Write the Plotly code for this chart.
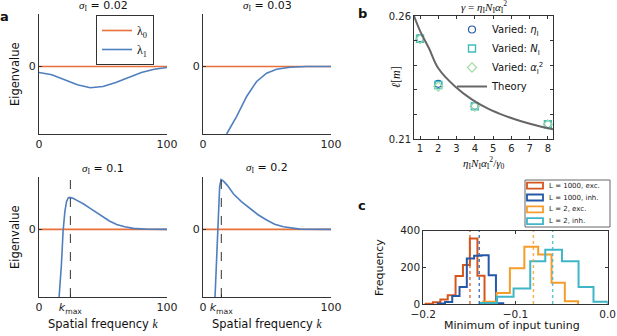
import plotly.graph_objects as go

W, H = 617, 336

# ---------------- data ----------------
# panel a : eigenvalues vs spatial frequency k
k_flat = [0, 100]
lam0 = [0, 0]

k_s002 = [0, 10, 20, 30, 40, 50, 60, 70, 80, 90, 100]
lam1_s002 = [-0.114, -0.158, -0.253, -0.348, -0.405, -0.380, -0.304, -0.203, -0.114, -0.051, -0.019]

k_s003 = [18.5, 26.3, 34.1, 41.9, 49.7, 57.5, 67.9, 80.9, 100]
lam1_s003 = [-1.285, -0.949, -0.570, -0.285, -0.127, -0.051, -0.013, 0.0, 0.0]

k_s01 = [15.7, 17.5, 18.8, 20.2, 21.5, 22.8, 24.1, 27, 30, 34.6, 40, 47.6, 55, 60.7, 67, 73.8, 85, 100]
lam1_s01 = [-1.29, -0.68, -0.04, 0.34, 0.53, 0.60, 0.61, 0.59, 0.55, 0.49, 0.40, 0.27, 0.16, 0.095, 0.05, 0.02, 0.003, 0.0]

k_s02 = [9.4, 10.7, 11.5, 12.2, 13.0, 14.1, 16, 19, 23.7, 30, 36.7, 43, 49.7, 56, 62.8, 75.8, 100]
lam1_s02 = [-1.29, -0.58, -0.01, 0.43, 0.81, 0.95, 0.92, 0.84, 0.68, 0.53, 0.40, 0.28, 0.18, 0.10, 0.05, 0.006, 0.0]

kmax_s01 = 24.5
kmax_s02 = 14.3

sigma_titles = ["0.02", "0.03", "0.1", "0.2"]

# panel b : ell[m] vs eta N alpha^2 / gamma0
ratio = [1, 2, 4, 8]
ell_eta = [0.2510, 0.2325, 0.2236, 0.2162]
ell_N = [0.2508, 0.2320, 0.2234, 0.2161]
ell_alpha = [0.2506, 0.2314, 0.2233, 0.2160]
theory_x = [0.67, 1.0, 1.49, 2.0, 2.92, 3.83, 4.75, 5.66, 6.58, 7.49, 8.28]
theory_y = [0.2600, 0.2540, 0.2469, 0.2388, 0.2314, 0.2262, 0.2223, 0.2195, 0.2172, 0.2154, 0.2141]
b_xticks = [1, 2, 3, 4, 5, 6, 7, 8]
b_yticks = [0.21, 0.22, 0.23, 0.24, 0.25, 0.26]
b_yticklabels = ["0.21", "", "", "", "", "0.26"]

# panel c : histograms of minimum of input tuning
red_edges = [-0.1975, -0.1895, -0.1815, -0.1735, -0.1650, -0.1570, -0.1495, -0.1413, -0.1336]
red_counts = [2, 10, 25, 48, 152, 212, 356, 154]
blue_edges = [-0.1844, -0.1765, -0.1686, -0.1607, -0.1528, -0.1449, -0.1370, -0.1291, -0.1212, -0.1133]
blue_counts = [3, 11, 44, 92, 247, 262, 265, 156, 4]
orange_edges = [-0.1350, -0.1205, -0.1061, -0.0904, -0.0754, -0.0609, -0.0465, -0.0321]
orange_counts = [12, 60, 194, 311, 270, 115, 15]
cyan_edges = [-0.1381, -0.1201, -0.1021, -0.0840, -0.0677, -0.0496, -0.0316, -0.0154, 0.0]
cyan_counts = [6, 40, 85, 233, 295, 233, 93, 12]
hist_means = [-0.1494, -0.1393, -0.0806, -0.0597]
hist_names = ["L = 1000, exc.", "L = 1000, inh.", "L = 2, exc.", "L = 2, inh."]
c_xticks = [-0.2, -0.1, 0.0]
c_xticklabels = ["\u22120.2", "\u22120.1", "0.0"]
c_yticks = [0, 200, 400]

# ---------------- styles ----------------
C_L0 = "#e8703a"
C_L1 = "#4f7fbf"
HIST_COLORS = ["#d4561c", "#2458a8", "#f59d2a", "#3fb6c8"]
SANS = "DejaVu Sans"
SERIF = "Liberation Serif"
AXC = "#333333"


def dx(a, b):
    return [a / W, b / W]


def dy(top, bottom):
    return [1 - bottom / H, 1 - top / H]


def steps(edges, counts):
    xs, ys = [edges[0]], [0]
    for i, c in enumerate(counts):
        xs += [edges[i], edges[i + 1]]
        ys += [c, c]
    xs.append(edges[-1])
    ys.append(0)
    return xs, ys


fig = go.Figure()

# ---- panel a ----
panels_a = [
    ("x", "y", k_s002, lam1_s002, True),
    ("x2", "y2", k_s003, lam1_s003, False),
    ("x3", "y3", k_s01, lam1_s01, False),
    ("x4", "y4", k_s02, lam1_s02, False),
]
for xa, ya, kk, ll, leg in panels_a:
    fig.add_trace(go.Scatter(x=k_flat, y=lam0, mode="lines", line=dict(color=C_L0, width=1.6),
                             name="\u03bb<sub>0</sub>", showlegend=leg, legend="legend",
                             xaxis=xa, yaxis=ya))
    fig.add_trace(go.Scatter(x=kk, y=ll, mode="lines", line=dict(color=C_L1, width=1.6),
                             name="\u03bb<sub>1</sub>", showlegend=leg, legend="legend",
                             xaxis=xa, yaxis=ya))

# ---- panel b ----
fig.add_trace(go.Scatter(x=ratio, y=ell_eta, mode="markers", name="Varied: <i>\u03b7</i><sub>I</sub>",
                         marker=dict(symbol="circle-open", size=7, color="#2a5aa8", line=dict(width=1.2)),
                         xaxis="x5", yaxis="y5", legend="legend2"))
fig.add_trace(go.Scatter(x=ratio, y=ell_N, mode="markers", name="Varied: <i>N</i><sub>I</sub>",
                         marker=dict(symbol="square-open", size=7, color="#3fbcbc", line=dict(width=1.4)),
                         xaxis="x5", yaxis="y5", legend="legend2"))
fig.add_trace(go.Scatter(x=ratio, y=ell_alpha, mode="markers", name="Varied: <i>\u03b1</i><sub>I</sub><sup>2</sup>",
                         marker=dict(symbol="diamond-open", size=7, color="#9fdca6", line=dict(width=1.2)),
                         xaxis="x5", yaxis="y5", legend="legend2"))
fig.add_trace(go.Scatter(x=theory_x, y=theory_y, mode="lines", name="Theory",
                         line=dict(color="#666666", width=2, shape="spline"),
                         xaxis="x5", yaxis="y5", legend="legend2"))

# ---- panel c ----
for edges, counts, col in [(red_edges, red_counts, HIST_COLORS[0]),
                           (blue_edges, blue_counts, HIST_COLORS[1]),
                           (orange_edges, orange_counts, HIST_COLORS[2]),
                           (cyan_edges, cyan_counts, HIST_COLORS[3])]:
    xs, ys = steps(edges, counts)
    fig.add_trace(go.Scatter(x=xs, y=ys, mode="lines", line=dict(color=col, width=2),
                             showlegend=False, xaxis="x6", yaxis="y6"))
for m, col in zip(hist_means, HIST_COLORS):
    fig.add_trace(go.Scatter(x=[m, m], y=[0, c_yticks[-1]], mode="lines",
                             line=dict(color=col, width=1.5, dash="dot"), opacity=0.8,
                             showlegend=False, xaxis="x6", yaxis="y6"))

# ---------------- axes ----------------
def a_axis(dom, rng, tickvals, ticktext, anchor, tsize=11):
    return dict(domain=dom, range=rng, tickvals=tickvals, ticktext=ticktext, anchor=anchor,
                showline=True, linecolor=AXC, linewidth=1, ticks="inside", ticklen=3,
                tickcolor=AXC, showgrid=False, zeroline=False, automargin=False,
                tickfont=dict(family=SANS, size=tsize, color="#222"))

kmax_txt = "<i>k</i><sub>max</sub>"
fig.update_layout(
    xaxis=a_axis(dx(39, 167), [0, 100], [0, 100], ["0", "100"], "y"),
    yaxis=a_axis(dy(14, 134), [-1.285, 1], [0], ["0"], "x"),
    xaxis2=a_axis(dx(203, 331), [0, 100], [0, 100], ["0", "100"], "y2"),
    yaxis2=a_axis(dy(14, 134), [-1.285, 1], [0], ["0"], "x2"),
    xaxis3=a_axis(dx(39, 167), [0, 100], [0, kmax_s01, 100], ["0", kmax_txt, "100"], "y3"),
    yaxis3=a_axis(dy(177, 297), [-1.29, 1], [0], ["0"], "x3"),
    xaxis4=a_axis(dx(203, 331), [0, 100], [0, kmax_s02, 100], ["0", kmax_txt, "100"], "y4"),
    yaxis4=a_axis(dy(177, 297), [-1.29, 1], [0], ["0"], "x4"),
)

fig.update_layout(
    xaxis5=dict(domain=dx(414, 553), range=[0.67, 8.28], tickvals=b_xticks, anchor="y5",
                showline=True, mirror="ticks", linecolor=AXC, linewidth=1, ticks="inside", ticklen=3,
                tickcolor=AXC, showgrid=False, zeroline=False, automargin=False,
                tickfont=dict(family=SANS, size=10, color="#222")),
    yaxis5=dict(domain=dy(16, 139.3), range=[0.21, 0.26], tickvals=b_yticks, ticktext=b_yticklabels,
                anchor="x5", showline=True, mirror="ticks", linecolor=AXC, linewidth=1, ticks="inside",
                ticklen=3, tickcolor=AXC, showgrid=False, zeroline=False, automargin=False,
                tickfont=dict(family=SANS, size=10, color="#222")),
    xaxis6=dict(domain=dx(423.3, 607.7), range=[-0.2, 0.0], tickvals=c_xticks, ticktext=c_xticklabels,
                anchor="y6", showline=True, mirror="ticks", linecolor=AXC, linewidth=1, ticks="inside",
                ticklen=3, tickcolor=AXC, showgrid=False, zeroline=False, automargin=False,
                tickfont=dict(family=SANS, size=10.5, color="#222")),
    yaxis6=dict(domain=dy(230.5, 304), range=[0, 400], tickvals=c_yticks, anchor="x6",
                showline=True, mirror="ticks", linecolor=AXC, linewidth=1, ticks="inside", ticklen=3,
                tickcolor=AXC, showgrid=False, zeroline=False, automargin=False,
                tickfont=dict(family=SANS, size=10.5, color="#222")),
)

# ---------------- shapes ----------------
shapes = []
for xa, ya, km in [("x3", "y3", kmax_s01), ("x4", "y4", kmax_s02)]:
    shapes.append(dict(type="line", xref=xa, yref=ya + " domain", x0=km, x1=km, y0=0, y1=1,
                       line=dict(color="#333", width=1, dash="dash")))

# manual legend for panel c
lx0, lx1, ly0, ly1 = 525, 610, 180, 227
shapes.append(dict(type="rect", xref="paper", yref="paper", x0=lx0 / W, x1=lx1 / W,
                   y0=1 - ly1 / H, y1=1 - ly0 / H, line=dict(color="#666", width=1),
                   fillcolor="white"))
annotations = []
for i, (name, col) in enumerate(zip(hist_names, HIST_COLORS)):
    cy = 185.7 + i * 11.8
    shapes.append(dict(type="rect", xref="paper", yref="paper", x0=527 / W, x1=543 / W,
                       y0=1 - (cy + 3) / H, y1=1 - (cy - 3) / H,
                       line=dict(color=col, width=1.8), fillcolor="rgba(0,0,0,0)"))
    annotations.append(dict(text=name, xref="paper", yref="paper", x=547 / W, y=1 - cy / H,
                            xanchor="left", yanchor="middle", showarrow=False,
                            font=dict(family=SANS, size=7, color="#222")))


def ann(text, x, y, size=11, angle=0, family=SANS, bold=False):
    if bold:
        text = "<b>" + text + "</b>"
    annotations.append(dict(text=text, xref="paper", yref="paper", x=x / W, y=1 - y / H,
                            xanchor="center", yanchor="middle", showarrow=False, textangle=angle,
                            font=dict(family=family, size=size, color="#111")))


sig = "<span style=\"font-family:'Liberation Serif'\"><i>\u03c3</i><sub>I</sub></span>"
ann(sig + " = " + sigma_titles[0], 103, 6)
ann(sig + " = " + sigma_titles[1], 267, 6)
ann(sig + " = " + sigma_titles[2], 103, 169)
ann(sig + " = " + sigma_titles[3], 267, 168)
ann("Eigenvalue", 15, 74, size=11.5, angle=-90)
ann("Eigenvalue", 15, 237, size=11.5, angle=-90)
kit = "<span style=\"font-family:'Liberation Serif'\"><i>k</i></span>"
ann("Spatial frequency " + kit, 103, 324, size=11.5)
ann("Spatial frequency " + kit, 267, 324, size=11.5)
ann("a", 4, 16, size=13, bold=True)
ann("b", 362, 14, size=13, bold=True)
ann("c", 362, 205, size=13, bold=True)

ann("<i>\u03b3</i> = <i>\u03b7</i><sub>I</sub><i>N</i><sub>I</sub><i>\u03b1</i><sub>I</sub><sup>2</sup>",
    484, 7, size=11, family=SERIF)
ann("<i>\u03b7</i><sub>I</sub><i>N</i><sub>I</sub><i>\u03b1</i><sub>I</sub><sup>2</sup>/<i>\u03b3</i><sub>0</sub>",
    484, 163, size=11, family=SERIF)
ann("<i>\u2113</i>[<i>m</i>]", 396, 77, size=12, angle=-90, family=SERIF)
ann("Frequency", 379, 268, size=11, angle=-90)
ann("Minimum of input tuning", 512, 325, size=11)

fig.update_layout(
    width=W, height=H, margin=dict(l=0, r=0, t=0, b=0, autoexpand=False),
    paper_bgcolor="white", plot_bgcolor="white",
    showlegend=True,
    shapes=shapes, annotations=annotations,
    legend=dict(x=96 / W, y=1 - 15 / H, xanchor="left", yanchor="top",
                bordercolor="#333", borderwidth=1, bgcolor="white",
                font=dict(family=SERIF, size=12, color="#111"), itemwidth=30,
                tracegroupgap=0),
    legend2=dict(x=452 / W, y=1 - 15 / H, xanchor="left", yanchor="top",
                 borderwidth=0, bgcolor="rgba(0,0,0,0)",
                 font=dict(family=SANS, size=10, color="#111"), itemwidth=30, tracegroupgap=0),
)

fig.write_html("out.html", config={"displayModeBar": False},
               post_script="document.body.style.margin='0';document.body.style.overflow='hidden';")
